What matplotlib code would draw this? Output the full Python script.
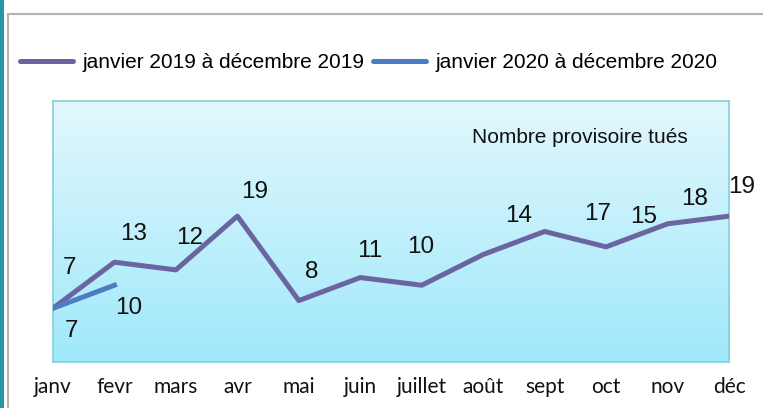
import matplotlib
matplotlib.use('Agg')
import matplotlib.pyplot as plt
import numpy as np
from matplotlib.patches import Rectangle
from matplotlib.lines import Line2D
from matplotlib.colors import LinearSegmentedColormap

# ---- data ----
months = ['janv', 'fevr', 'mars', 'avr', 'mai', 'juin', 'juillet', 'août',
          'sept', 'oct', 'nov', 'déc']
deaths_2019 = [7, 13, 12, 19, 8, 11, 10, 14, 17, 15, 18, 19]
deaths_2020 = [7, 10]
series_names = ['janvier 2019 à décembre 2019', 'janvier 2020 à décembre 2020']
chart_title = 'Nombre provisoire tués'

# label offsets (pixels) - layout only
off_2019 = [(17, 40), (19, 28), (14, 32), (17, 24), (13, 29), (9, 27), (-1, 38),
            (35, 39), (53, 18), (38, 30), (27, 25), (13, 29)]
off_2020 = [(19, -23), (14, -23)]

W, H = 763, 408
fig = plt.figure(figsize=(W / 100, H / 100), dpi=100)
fig.patch.set_facecolor('white')

ax = fig.add_axes([53 / W, 46 / H, 676 / W, 261 / H])
x = np.arange(len(months))

grad = np.linspace(0, 1, 256).reshape(-1, 1)
cmap = LinearSegmentedColormap.from_list('g', ['#E2F8FD', '#A0E8FB'])
ax.imshow(grad, extent=[0, 1, 0, 1], transform=ax.transAxes, aspect='auto',
          cmap=cmap, zorder=0, interpolation='bicubic')

c19 = '#6A64A0'
c20 = '#4A7EC0'
l19, = ax.plot(x, deaths_2019, color=c19, lw=3.6, zorder=3, label=series_names[0])
l20, = ax.plot(x[:len(deaths_2020)], deaths_2020, color=c20, lw=3.6, zorder=4,
               label=series_names[1])

lab_font = dict(family='Liberation Sans', size=17.5, color='#111111')
for xi, v, (dx, dy) in zip(x, deaths_2019, off_2019):
    ax.annotate(str(v), (xi, v), xytext=(dx, dy), textcoords='offset pixels',
                ha='center', va='center', annotation_clip=False, **lab_font)
for xi, v, (dx, dy) in zip(x, deaths_2020, off_2020):
    ax.annotate(str(v), (xi, v), xytext=(dx, dy), textcoords='offset pixels',
                ha='center', va='center', annotation_clip=False, **lab_font)

ax.set_xlim(0, len(months) - 1)
ax.set_ylim(0, 34)
ax.set_xticks(x, months)
ax.set_yticks([])
ax.tick_params(axis='x', length=0, pad=11)
for t in ax.get_xticklabels():
    t.set_fontfamily('Lato')
    t.set_fontsize(15)
    t.set_color('#111111')
for s in ax.spines.values():
    s.set_color('#86D0D6')
    s.set_linewidth(1.2)

fig.text(580 / W, 1 - 143 / H, chart_title, ha='center', va='baseline',
         family='Liberation Sans', size=15, color='#111111')

leg = fig.legend(handles=[l19, l20], loc='center left',
                 bbox_to_anchor=(20 / W, 1 - 63 / H), ncol=2, frameon=False,
                 prop=dict(family='Liberation Sans', size=15),
                 handlelength=2.55, handletextpad=0.45, columnspacing=0.4,
                 borderpad=0, borderaxespad=0)
for h in leg.legend_handles:
    h.set_solid_capstyle('round')

# outer frame decorations
fig.add_artist(Line2D([8 / W, 1], [1 - 14 / H] * 2, transform=fig.transFigure,
                      color='#B4B4B4', lw=1.5))
fig.add_artist(Line2D([8 / W] * 2, [0, 1 - 14 / H], transform=fig.transFigure,
                      color='#B4B4B4', lw=1.5))
fig.add_artist(Rectangle((0, 0), 3.5 / W, 1, transform=fig.transFigure,
                         color='#2596A4', lw=0))

fig.savefig('out.png', dpi=100)
